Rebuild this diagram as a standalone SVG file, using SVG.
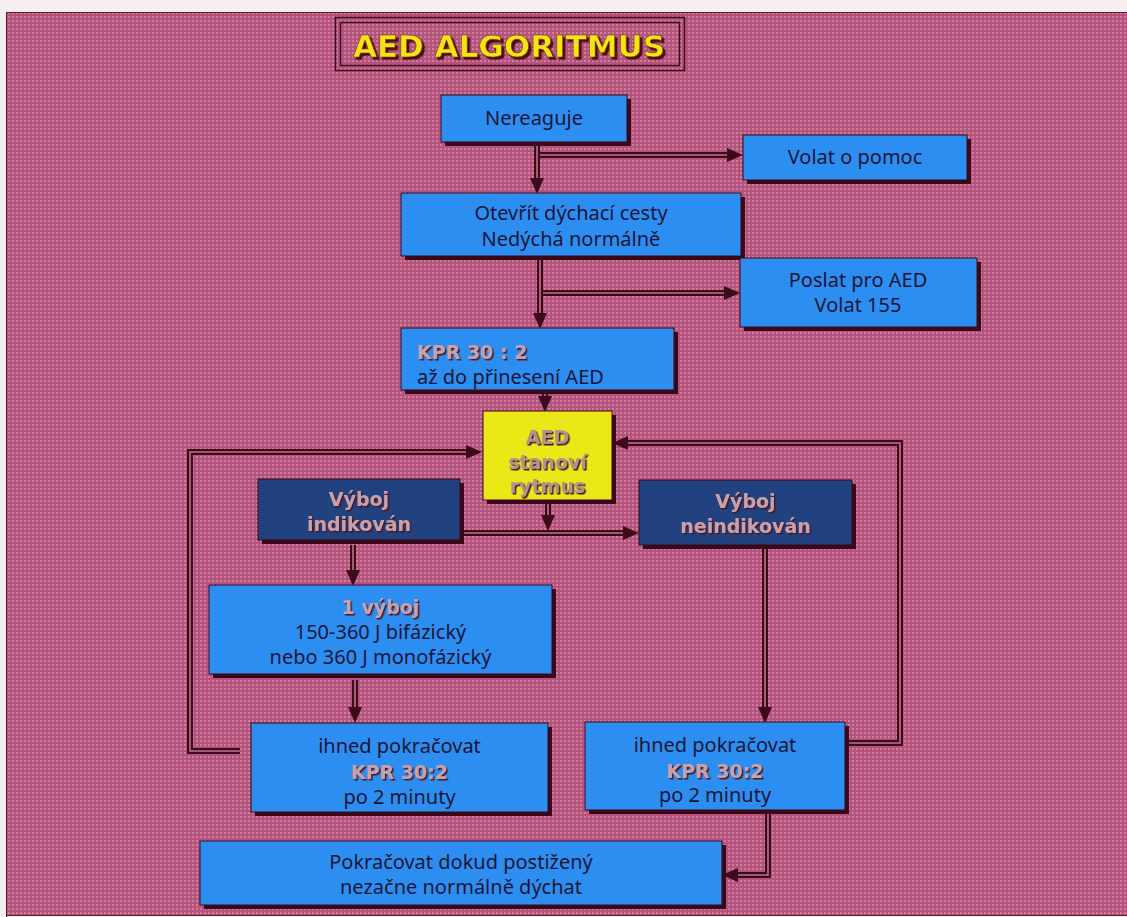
<svg xmlns="http://www.w3.org/2000/svg" width="1127" height="917" viewBox="0 0 1127 917">
<defs>
<pattern id="dots" x="0" y="0" width="4" height="4" patternUnits="userSpaceOnUse">
<rect width="4" height="4" fill="#b4537d"/>
<rect x="0" y="0" width="2" height="2" fill="#cf7f9c"/>
</pattern>
<marker id="ah" viewBox="0 0 16 14" refX="0" refY="7" markerWidth="16" markerHeight="14" markerUnits="userSpaceOnUse" orient="auto">
<path d="M0,0 L16,7 L0,14 Z" fill="#3c0a18"/>
</marker>
<filter id="ts" x="-10%" y="-30%" width="130%" height="170%">
<feDropShadow dx="1.5" dy="1.5" stdDeviation="0.3" flood-color="#4a1626" flood-opacity="1"/>
</filter>
<filter id="tts" x="-10%" y="-30%" width="130%" height="170%">
<feDropShadow dx="2.5" dy="2.5" stdDeviation="0.4" flood-color="#4a1010" flood-opacity="1"/>
</filter>
</defs>
<style>
.shadow{fill:#3a0818}
.blue{fill:#2d8ef2;stroke:#3a0818;stroke-width:1}
.dblue{fill:#22417f;stroke:#3a0818;stroke-width:1}
.yellow{fill:#ece818;stroke:#3a0818;stroke-width:1}
.t{font-family:"Noto Sans","DejaVu Sans",sans-serif;font-size:20px;fill:#1a1535;text-anchor:middle}
.b{font-family:"DejaVu Sans",Verdana,sans-serif;font-weight:bold;font-size:19px;fill:#c9a0a8;text-anchor:middle;filter:url(#ts)}
.outer{fill:none;stroke:#3c0a18;stroke-width:6;stroke-linejoin:miter}
.inner{fill:none;stroke:#c07090;stroke-width:1.6;stroke-linejoin:miter}
</style>
<rect width="1127" height="917" fill="#f4eef0"/>
<rect x="6" y="12" width="1121" height="903" fill="url(#dots)"/>
<path d="M6.5,917 V12.5 H1127" fill="none" stroke="#5a1a30" stroke-width="1"/>
<line x1="6" y1="915.5" x2="1127" y2="915.5" stroke="#5a1a30" stroke-width="1"/>

<g id="title">
<rect x="335.5" y="17.5" width="349" height="53" fill="none" stroke="#3c0a18" stroke-width="1.5"/>
<rect x="340.5" y="22.5" width="339" height="43" fill="none" stroke="#3c0a18" stroke-width="1.5"/>
<text x="509" y="57" font-family="DejaVu Sans, Verdana, sans-serif" font-weight="bold" font-size="31" fill="#f4e414" stroke="#6a3010" stroke-width="0.6" text-anchor="middle" filter="url(#tts)">AED ALGORITMUS</text>
</g>

<g id="connectors">
<path class="outer" d="M537,142 V178" marker-end="url(#ah)"/>
<path class="inner" d="M537,142 V178"/>
<path class="outer" d="M540,155 H727" marker-end="url(#ah)"/>
<path class="inner" d="M540,155 H727"/>
<path class="outer" d="M540,256 V313" marker-end="url(#ah)"/>
<path class="inner" d="M540,256 V313"/>
<path class="outer" d="M543,293 H724" marker-end="url(#ah)"/>
<path class="inner" d="M543,293 H724"/>
<path class="outer" d="M545,390 V396" marker-end="url(#ah)"/>
<path class="inner" d="M545,390 V396"/>
<path class="outer" d="M548,500 V515" marker-end="url(#ah)"/>
<path class="inner" d="M548,500 V515"/>
<path class="outer" d="M460,533 H623" marker-end="url(#ah)"/>
<path class="inner" d="M460,533 H623"/>
<path class="outer" d="M353,545 V570" marker-end="url(#ah)"/>
<path class="inner" d="M353,545 V570"/>
<path class="outer" d="M355,680 V707" marker-end="url(#ah)"/>
<path class="inner" d="M355,680 V707"/>
<path class="outer" d="M240,751 H190 V452 H466" marker-end="url(#ah)"/>
<path class="inner" d="M240,751 H190 V452 H466"/>
<path class="outer" d="M765,545 V707" marker-end="url(#ah)"/>
<path class="inner" d="M765,545 V707"/>
<path class="outer" d="M845,743 H900 V443 H628" marker-end="url(#ah)"/>
<path class="inner" d="M845,743 H900 V443 H628"/>
<path class="outer" d="M768,810 V875 H738" marker-end="url(#ah)"/>
<path class="inner" d="M768,810 V875 H738"/>
</g>

<g id="n-nereaguje">
<rect class="shadow" x="445" y="99" width="186" height="47"/>
<rect class="blue" x="441" y="95" width="186" height="47"/>
<text class="t" x="534" y="125">Nereaguje</text>
</g>

<g id="n-volat">
<rect class="shadow" x="747" y="139" width="224" height="45"/>
<rect class="blue" x="743" y="135" width="224" height="45"/>
<text class="t" x="855" y="164">Volat o pomoc</text>
</g>

<g id="n-otevrit">
<rect class="shadow" x="405" y="197" width="340" height="63"/>
<rect class="blue" x="401" y="193" width="340" height="63"/>
<text class="t" x="571" y="220">Otevřít dýchací cesty</text>
<text class="t" x="571" y="246">Nedýchá normálně</text>
</g>

<g id="n-poslat">
<rect class="shadow" x="744" y="262" width="237" height="69"/>
<rect class="blue" x="740" y="258" width="237" height="69"/>
<text class="t" x="858" y="287">Poslat pro AED</text>
<text class="t" x="858" y="312">Volat 155</text>
</g>

<g id="n-kpr">
<rect class="shadow" x="405" y="332" width="273" height="62"/>
<rect class="blue" x="401" y="328" width="273" height="62"/>
<text class="b" x="417" y="359" style="text-anchor:start">KPR 30 : 2</text>
<text class="t" x="417" y="384" style="text-anchor:start">až do přinesení AED</text>
</g>

<g id="n-aed">
<rect class="shadow" x="487" y="415" width="129" height="89"/>
<rect class="yellow" x="483" y="411" width="129" height="89"/>
<text class="b" x="547.5" y="443.5" style="fill:#b09488">AED</text>
<text class="b" x="547.5" y="468.5" style="fill:#b09488">stanoví</text>
<text class="b" x="547.5" y="492.5" style="fill:#b09488">rytmus</text>
</g>

<g id="n-indikovan">
<rect class="shadow" x="262" y="483" width="202" height="61"/>
<rect class="dblue" x="258" y="479" width="202" height="61"/>
<text class="b" x="359" y="506">Výboj</text>
<text class="b" x="359" y="531">indikován</text>
</g>

<g id="n-neindikovan">
<rect class="shadow" x="643" y="484" width="213" height="65"/>
<rect class="dblue" x="639" y="480" width="213" height="65"/>
<text class="b" x="745.5" y="508">Výboj</text>
<text class="b" x="745.5" y="533">neindikován</text>
</g>

<g id="n-vyboj">
<rect class="shadow" x="213" y="589" width="343" height="89"/>
<rect class="blue" x="209" y="585" width="343" height="89"/>
<text class="b" x="380.5" y="614">1 výboj</text>
<text class="t" x="380.5" y="639">150-360 J bifázický</text>
<text class="t" x="380.5" y="664">nebo 360 J monofázický</text>
</g>

<g id="n-ihned-left">
<rect class="shadow" x="255" y="727" width="297" height="89"/>
<rect class="blue" x="251" y="723" width="297" height="89"/>
<text class="t" x="399.5" y="753">ihned pokračovat</text>
<text class="b" x="399.5" y="778.5">KPR 30:2</text>
<text class="t" x="399.5" y="804">po 2 minuty</text>
</g>

<g id="n-ihned-right">
<rect class="shadow" x="589" y="726" width="260" height="88"/>
<rect class="blue" x="585" y="722" width="260" height="88"/>
<text class="t" x="715" y="752">ihned pokračovat</text>
<text class="b" x="715" y="777.5">KPR 30:2</text>
<text class="t" x="715" y="802">po 2 minuty</text>
</g>

<g id="n-pokracovat">
<rect class="shadow" x="204" y="845" width="522" height="64"/>
<rect class="blue" x="200" y="841" width="522" height="64"/>
<text class="t" x="461" y="869">Pokračovat dokud postižený</text>
<text class="t" x="461" y="894">nezačne normálně dýchat</text>
</g>
</svg>
